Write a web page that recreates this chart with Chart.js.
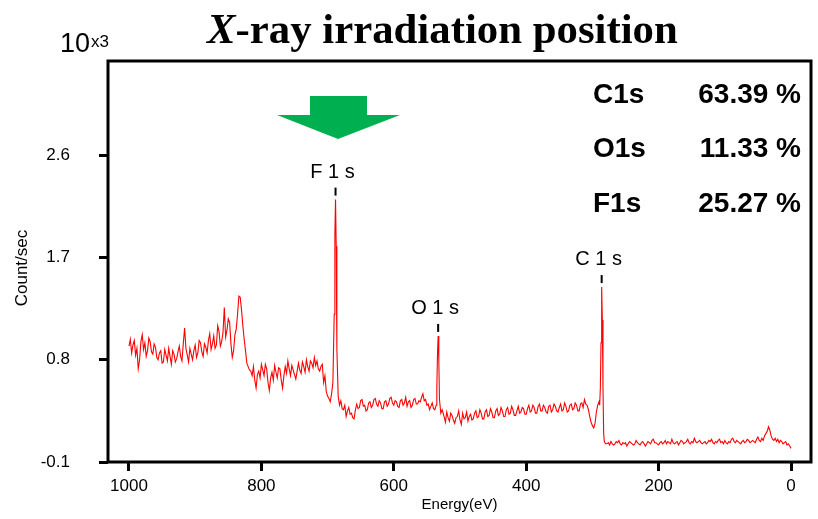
<!DOCTYPE html>
<html><head><meta charset="utf-8">
<script src="https://cdn.jsdelivr.net/npm/chart.js@4"></script>
<style>html,body{margin:0;padding:0;background:#fff;}canvas{display:block;}</style>
</head><body>
<canvas id="c" width="818" height="519"></canvas>
<script>
// Binding energy (eV)
const energies = [
  1000,998,996,994,992,990,988,986,984,982,
  980,978,976,974,972,970,968,966,964,962,
  960,958,956,954,952,950,948,946,944,942,
  940,938,936,934,932,930,928,926,924,922,
  920,918,916,914,912,910,908,906,904,902,
  900,898,896,894,892,890,888,886,884,882,
  880,878,876,874,872,870,868,866,864,862,
  860,858,856,854,852,850,848,846,844,842,
  840,838,836,834,832,830,828,826,824,822,
  820,818,816,814,812,810,808,806,804,802,
  800,798,796,794,792,790,788,786,784,782,
  780,778,776,774,772,770,768,766,764,762,
  760,758,756,754,752,750,748,746,744,742,
  740,738,736,734,732,730,728,726,724,722,
  720,718,716,714,712,710,708,706,704,702,
  700,698,696,694,692,690,689,688,687,686,684,682,680,678,
  676,674,672,670,668,666,664,662,660,658,
  656,654,652,650,648,646,644,642,640,638,
  636,634,632,630,628,626,624,622,620,618,
  616,614,612,610,608,606,604,602,600,598,
  596,594,592,590,588,586,584,582,580,578,
  576,574,572,570,568,566,564,562,560,558,
  556,554,552,550,548,546,544,542,540,
  538,536,535,534,533,532,531,529,527,
  524,522,520,518,516,514,512,510,508,506,
  504,502,500,498,496,494,492,490,488,486,
  484,482,480,478,476,474,472,470,468,466,
  464,462,460,458,456,454,452,450,448,446,
  444,442,440,438,436,434,432,430,428,426,
  424,422,420,418,416,414,412,410,408,406,
  404,402,400,398,396,394,392,390,388,386,
  384,382,380,378,376,374,372,370,368,366,
  364,362,360,358,356,354,352,350,348,346,
  344,342,340,338,336,334,332,330,328,326,
  324,322,320,318,316,314,312,310,308,306,
  304,302,300,298,296,
  294,292,290,289,288,287,286,285,284,283,282,280,
  278,276,274,272,270,268,266,264,262,260,
  258,256,254,252,250,248,246,244,242,240,
  238,236,234,232,230,228,226,224,222,220,
  218,216,214,212,210,208,206,204,202,200,
  198,196,194,192,190,188,186,184,182,180,
  178,176,174,172,170,168,166,164,162,160,
  158,156,154,152,150,148,146,144,142,140,
  138,136,134,132,130,128,126,124,122,120,
  118,116,114,112,110,108,106,104,102,100,
  98,96,94,92,90,88,86,84,82,80,
  78,76,74,72,70,68,66,64,62,60,
  58,56,54,52,50,48,46,44,42,40,
  38,36,34,32,30,28,26,24,22,20,
  18,16,14,12,10,8,6,4,2,0
];
// Count/sec (x10^3)
const counts = [
  0.92,0.98,0.86,0.93,0.97,0.84,0.90,0.72,0.80,0.96,
  1.02,0.89,0.95,0.83,0.88,0.99,0.96,0.87,0.85,0.94,
  0.91,0.82,0.80,0.86,0.88,0.77,0.78,0.89,0.84,0.79,
  0.90,0.83,0.76,0.88,0.85,0.78,0.81,0.87,0.92,0.83,
  0.79,0.94,1.08,0.90,0.84,0.78,0.90,0.85,0.80,0.88,
  0.93,0.82,0.86,0.97,0.95,0.87,0.83,0.94,0.91,0.86,
  0.97,1.03,0.89,0.94,1.01,0.90,0.93,1.10,1.05,0.92,
  0.96,1.04,1.26,1.00,1.06,1.16,1.13,0.94,0.82,0.88,
  1.02,1.07,1.20,1.36,1.35,1.24,1.10,0.98,0.88,0.77,
  0.74,0.71,0.70,0.66,0.74,0.62,0.55,0.67,0.70,0.64,
  0.76,0.71,0.66,0.76,0.72,0.60,0.53,0.64,0.69,0.62,
  0.75,0.69,0.64,0.73,0.72,0.62,0.55,0.66,0.74,0.68,
  0.79,0.72,0.66,0.75,0.71,0.67,0.63,0.70,0.77,0.71,
  0.68,0.78,0.74,0.69,0.80,0.74,0.70,0.79,0.77,0.73,
  0.82,0.75,0.79,0.72,0.70,0.74,0.76,0.60,0.66,0.52,
  0.48,0.46,0.43,0.50,0.60,1.20,1.90,2.21,1.80,0.90,0.48,0.40,0.44,0.37,
  0.36,0.40,0.30,0.35,0.38,0.32,0.33,0.29,0.28,0.36,
  0.41,0.37,0.38,0.44,0.45,0.39,0.40,0.35,0.36,0.42,
  0.43,0.38,0.40,0.45,0.46,0.41,0.39,0.44,0.42,0.37,
  0.37,0.43,0.44,0.39,0.41,0.46,0.47,0.42,0.40,0.44,
  0.43,0.39,0.38,0.44,0.45,0.40,0.42,0.47,0.39,0.43,
  0.44,0.38,0.40,0.45,0.46,0.41,0.41,0.44,0.43,0.47,
  0.50,0.44,0.45,0.40,0.41,0.36,0.39,0.42,0.37,
  0.36,0.40,0.55,0.85,1.01,0.80,0.45,0.33,0.36,
  0.30,0.25,0.34,0.29,0.26,0.33,0.31,0.27,0.24,0.29,
  0.30,0.35,0.27,0.23,0.33,0.28,0.29,0.34,0.26,0.30,
  0.32,0.27,0.28,0.33,0.35,0.29,0.30,0.36,0.33,0.28,
  0.28,0.34,0.36,0.30,0.31,0.37,0.34,0.29,0.29,0.35,
  0.37,0.31,0.32,0.38,0.35,0.30,0.30,0.36,0.38,0.32,
  0.33,0.39,0.36,0.31,0.31,0.35,0.39,0.33,0.34,0.38,
  0.37,0.32,0.32,0.37,0.40,0.34,0.35,0.40,0.38,0.33,
  0.33,0.39,0.41,0.35,0.35,0.40,0.38,0.34,0.33,0.39,
  0.40,0.34,0.36,0.41,0.39,0.35,0.34,0.38,0.41,0.35,
  0.36,0.42,0.39,0.34,0.35,0.40,0.41,0.36,0.37,0.42,
  0.40,0.35,0.35,0.41,0.42,0.38,0.45,0.41,0.40,0.36,
  0.30,0.25,0.22,0.20,0.24,
  0.34,0.40,0.43,0.40,0.55,0.95,1.44,1.15,0.55,0.15,0.08,0.06,
  0.06,0.07,0.05,0.08,0.06,0.05,0.06,0.08,0.07,0.09,
  0.06,0.05,0.07,0.06,0.07,0.04,0.06,0.08,0.07,0.06,
  0.05,0.06,0.09,0.07,0.06,0.05,0.07,0.08,0.06,0.04,
  0.06,0.08,0.07,0.06,0.09,0.10,0.07,0.07,0.06,0.05,
  0.07,0.08,0.06,0.07,0.09,0.06,0.08,0.07,0.06,0.10,
  0.07,0.06,0.07,0.08,0.05,0.07,0.09,0.08,0.06,0.07,
  0.08,0.10,0.07,0.06,0.08,0.07,0.11,0.08,0.07,0.08,
  0.09,0.07,0.06,0.07,0.08,0.06,0.07,0.09,0.08,0.10,
  0.07,0.06,0.08,0.07,0.09,0.10,0.07,0.08,0.06,0.09,
  0.07,0.06,0.08,0.07,0.10,0.11,0.08,0.07,0.09,0.08,
  0.07,0.06,0.08,0.09,0.07,0.08,0.10,0.09,0.07,0.08,
  0.09,0.08,0.07,0.10,0.12,0.09,0.08,0.11,0.09,0.13,
  0.15,0.17,0.21,0.18,0.13,0.10,0.09,0.11,0.08,0.10,
  0.07,0.09,0.08,0.06,0.07,0.08,0.05,0.06,0.04,0.02
];
const xTicks = [1000, 800, 600, 400, 200, 0];
const yTicks = [-0.1, 0.8, 1.7, 2.6];
const peakNames = ['F 1 s', 'O 1 s', 'C 1 s'];
const peakEnergies = [688, 533, 286];
const compNames = ['C1s', 'O1s', 'F1s'];
const compPercents = ['63.39 %', '11.33 %', '25.27 %'];
const titleItalic = 'X';
const titleRest = '-ray irradiation position';
const xTitle = 'Energy(eV)';
const yTitle = 'Count/sec';

const SANS = '"Liberation Sans", Arial, sans-serif';
const SERIF = '"Liberation Serif", "Times New Roman", serif';

const annot = {
  id: 'annot',
  afterDraw(chart) {
    const ctx = chart.ctx, ca = chart.chartArea;
    const xs = chart.scales.x, ys = chart.scales.y;
    ctx.save();
    // frame
    ctx.strokeStyle = '#000'; ctx.lineWidth = 3;
    ctx.strokeRect(ca.left, ca.top, ca.right - ca.left, ca.bottom - ca.top);
    ctx.fillStyle = '#000';
    ctx.textBaseline = 'alphabetic';
    // title
    ctx.textAlign = 'left';
    ctx.font = 'italic bold 42.8px ' + SERIF;
    let tx = 207;
    ctx.fillText(titleItalic, tx, 43);
    tx += ctx.measureText(titleItalic).width;
    ctx.font = 'bold 42.8px ' + SERIF;
    ctx.fillText(titleRest, tx, 43);
    // 10x3 multiplier
    ctx.font = '27px ' + SANS;
    ctx.fillText('10', 60, 52);
    ctx.font = '17px ' + SANS;
    ctx.fillText('x3', 91, 47);
    // composition table
    ctx.font = 'bold 28px ' + SANS;
    const rows = [103, 157, 212];
    compNames.forEach((n, i) => {
      ctx.textAlign = 'left'; ctx.fillText(n, 593, rows[i]);
      ctx.textAlign = 'right'; ctx.fillText(compPercents[i], 801, rows[i]);
    });
    // peak labels anchored to data
    ctx.font = '20px ' + SANS;
    ctx.textAlign = 'center';
    ctx.lineWidth = 2;
    peakNames.forEach((n, i) => {
      const idx = energies.indexOf(peakEnergies[i]);
      const px = xs.getPixelForValue(energies[idx]);
      const py = ys.getPixelForValue(counts[idx]);
      ctx.beginPath();
      ctx.moveTo(px, py - 12); ctx.lineTo(px, py - 4); ctx.stroke();
      ctx.fillText(n, px - 3, py - 22);
    });
    // axis titles
    ctx.font = '15px ' + SANS;
    ctx.textBaseline = 'middle';
    ctx.fillText(xTitle, (ca.left + ca.right) / 2, 505);
    ctx.save();
    ctx.translate(22, 268);
    ctx.rotate(-Math.PI / 2);
    ctx.font = '17px ' + SANS;
    ctx.fillText(yTitle, 0, 0);
    ctx.restore();
    // green arrow
    ctx.fillStyle = '#00B050';
    ctx.beginPath();
    ctx.moveTo(310, 96); ctx.lineTo(367, 96); ctx.lineTo(367, 115);
    ctx.lineTo(400, 115); ctx.lineTo(338, 139); ctx.lineTo(277, 115);
    ctx.lineTo(310, 115); ctx.closePath(); ctx.fill();
    ctx.restore();
  }
};

new Chart(document.getElementById('c'), {
  type: 'line',
  data: {
    datasets: [{
      data: energies.map((e, i) => ({ x: e, y: counts[i] })),
      borderColor: '#ff0000',
      borderWidth: 1.1,
      pointRadius: 0,
      tension: 0,
      fill: false
    }]
  },
  options: {
    responsive: false,
    devicePixelRatio: 1,
    animation: false,
    events: [],
    layout: { padding: { left: 0, right: 7, top: 61, bottom: 0 } },
    plugins: { legend: { display: false }, title: { display: false }, tooltip: { enabled: false } },
    scales: {
      x: {
        type: 'linear', reverse: true, min: -30.2, max: 1031.7,
        afterBuildTicks: s => { s.ticks = xTicks.map(v => ({ value: v })); },
        afterFit: s => { s.height = 57; },
        grid: { display: true, drawOnChartArea: false, drawTicks: true, tickLength: 9, lineWidth: 3, color: '#000' },
        border: { display: false },
        ticks: { color: '#000', font: { family: SANS, size: 17 }, padding: 5, maxRotation: 0, autoSkip: false, callback: v => String(v) }
      },
      y: {
        type: 'linear', min: -0.1, max: 3.43,
        afterBuildTicks: s => { s.ticks = yTicks.map(v => ({ value: v })); },
        afterFit: s => { s.width = 108; },
        grid: { display: true, drawOnChartArea: false, drawTicks: true, tickLength: 9, lineWidth: 3, color: '#000' },
        border: { display: false },
        ticks: { color: '#000', font: { family: SANS, size: 17 }, padding: 29, autoSkip: false, callback: v => v.toFixed(1) }
      }
    }
  },
  plugins: [annot]
});
</script>
</body></html>
